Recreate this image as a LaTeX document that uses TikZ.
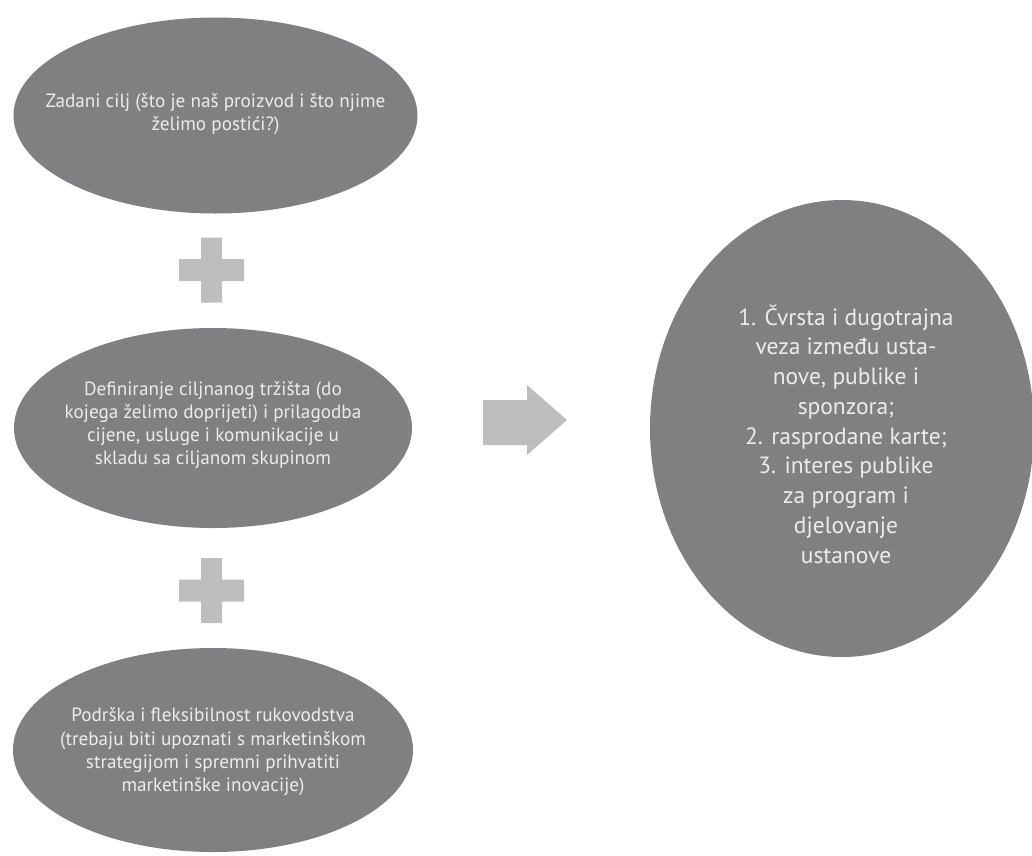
\documentclass[tikz,border=0pt]{standalone}
\usepackage{fontspec}
\setmainfont{PT Sans}
\usetikzlibrary{shapes.geometric}
\definecolor{blobgray}{RGB}{128,128,130}
\definecolor{signgray}{RGB}{190,190,192}
\definecolor{txtwhite}{RGB}{236,236,236}
\tikzset{
  blob/.style={ellipse, fill=blobgray, draw=none, inner sep=0pt},
  lefttxt/.style={align=center, text=txtwhite, font=\fontsize{19.2}{23.3}\selectfont, inner sep=0pt},
  righttxt/.style={align=center, text=txtwhite, font=\fontsize{23.5}{29.75}\selectfont, inner sep=0pt},
  sign/.style={fill=signgray, draw=none}
}
\begin{document}
\begin{tikzpicture}[x=1pt, y=-1pt]
\useasboundingbox (0,0) rectangle (1032,855);
% left ellipses
\node[blob, minimum width=404pt, minimum height=196pt] (e1) at (215.5,115.5) {};
\node[lefttxt] (t1) at (215.5,114) {Zadani cilj (što je naš proizvod i što njime\\želimo postići?)};
\node[blob, minimum width=398pt, minimum height=200pt] (e2) at (213,428) {};
\node[lefttxt] (t2) at (213,425) {Definiranje ciljnanog tržišta (do\\kojega želimo doprijeti) i prilagodba\\cijene, usluge i komunikacije u\\skladu sa ciljanom skupinom};
\node[blob, minimum width=400pt, minimum height=204pt] (e3) at (213,750) {};
\node[lefttxt] (t3) at (213,752) {Podrška i fleksibilnost rukovodstva\\(trebaju biti upoznati s marketinškom\\strategijom i spremni prihvatiti\\marketinške inovacije)};
% right ellipse
\node[blob, minimum width=384pt, minimum height=457pt] (r) at (842,428.5) {};
\node[righttxt] (rt) at (846,434) {1. Čvrsta i dugotrajna\\veza između usta-\\nove, publike i\\sponzora;\\2. rasprodane karte;\\3. interes publike\\za program i\\djelovanje\\ustanove};
% plus signs
\coordinate (p1) at (211.5,270);
\coordinate (p2) at (211.5,590.5);
\foreach \p in {p1,p2}{
  \fill[sign] ([xshift=-10.5pt,yshift=32.5pt]\p) -- ([xshift=10.5pt,yshift=32.5pt]\p)
    -- ([xshift=10.5pt,yshift=11pt]\p) -- ([xshift=32.5pt,yshift=11pt]\p)
    -- ([xshift=32.5pt,yshift=-11pt]\p) -- ([xshift=10.5pt,yshift=-11pt]\p)
    -- ([xshift=10.5pt,yshift=-32.5pt]\p) -- ([xshift=-10.5pt,yshift=-32.5pt]\p)
    -- ([xshift=-10.5pt,yshift=-11pt]\p) -- ([xshift=-32.5pt,yshift=-11pt]\p)
    -- ([xshift=-32.5pt,yshift=11pt]\p) -- ([xshift=-10.5pt,yshift=11pt]\p) -- cycle;
}
% arrow
\fill[sign] (483,400) -- (527,400) -- (527,385) -- (567,420) -- (527,455) -- (527,445) -- (483,445) -- cycle;
\end{tikzpicture}
\end{document}
